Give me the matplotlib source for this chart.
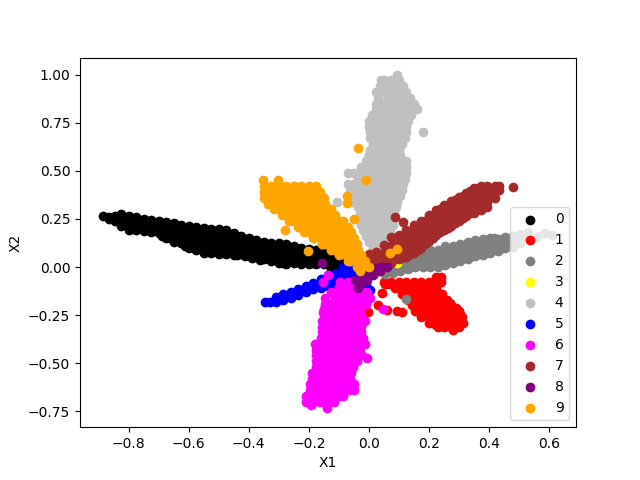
import matplotlib
matplotlib.use('Agg')
import matplotlib.pyplot as plt

# points, one small table per class
# columns: (x, [y, y, ...])

black_cols = [
    (-0.885, [0.265]), (-0.865, [0.26, 0.25]), (-0.845, [0.265, 0.24]),
    (-0.825, [0.275, 0.245, 0.215]), (-0.80, [0.265, 0.235, 0.205, 0.195]),
    (-0.775, [0.26, 0.23, 0.19]), (-0.75, [0.25, 0.22, 0.185]),
    (-0.725, [0.245, 0.215, 0.18]), (-0.70, [0.24, 0.21, 0.175]),
    (-0.675, [0.235, 0.205, 0.175, 0.15]), (-0.65, [0.23, 0.20, 0.17, 0.13]),
    (-0.625, [0.22, 0.19, 0.16, 0.125]), (-0.60, [0.215, 0.185, 0.155, 0.125, 0.10]),
    (-0.575, [0.21, 0.18, 0.15, 0.12, 0.09]), (-0.55, [0.205, 0.175, 0.145, 0.115, 0.075]),
    (-0.525, [0.20, 0.17, 0.14, 0.11, 0.075]), (-0.50, [0.20, 0.17, 0.14, 0.11, 0.07]),
    (-0.475, [0.19, 0.16, 0.13, 0.10, 0.07]), (-0.45, [0.175, 0.145, 0.115, 0.085, 0.065]),
    (-0.425, [0.16, 0.13, 0.10, 0.07]), (-0.40, [0.15, 0.12, 0.09, 0.06]),
    (-0.375, [0.14, 0.11, 0.08, 0.05]), (-0.35, [0.13, 0.10, 0.07, 0.04]),
    (-0.325, [0.125, 0.095, 0.065, 0.03]), (-0.30, [0.125, 0.095, 0.065, 0.035, 0.02]),
    (-0.275, [0.12, 0.09, 0.06, 0.03, 0.015]), (-0.25, [0.11, 0.08, 0.05, 0.02]),
    (-0.225, [0.10, 0.07, 0.04, 0.015]), (-0.20, [0.095, 0.065, 0.035, 0.015]),
    (-0.175, [0.09, 0.06, 0.03, 0.015]), (-0.15, [0.075, 0.045, 0.015]),
    (-0.125, [0.05, 0.02, -0.01]), (-0.10, [0.03, 0.0, -0.02]), (-0.07, [0.01, -0.02]),
    # points between the columns above
    (-0.7125, [0.225, 0.195]), (-0.6875, [0.22, 0.19, 0.16]),
    (-0.6625, [0.215, 0.185, 0.15]), (-0.6375, [0.21, 0.18, 0.15]),
    (-0.6125, [0.20, 0.17, 0.14, 0.11]), (-0.5875, [0.195, 0.165, 0.135, 0.105]),
    (-0.5625, [0.19, 0.16, 0.13, 0.095]), (-0.5375, [0.19, 0.16, 0.125, 0.09]),
    (-0.5125, [0.185, 0.155, 0.125, 0.09]), (-0.4875, [0.18, 0.15, 0.12, 0.085]),
    (-0.4625, [0.17, 0.14, 0.11, 0.08]), (-0.4375, [0.155, 0.125, 0.095, 0.065]),
    (-0.4125, [0.145, 0.115, 0.085, 0.055]), (-0.3875, [0.135, 0.105, 0.075, 0.045]),
    (-0.3625, [0.125, 0.095, 0.065, 0.035]), (-0.3375, [0.115, 0.085, 0.055]),
    (-0.3125, [0.11, 0.08, 0.05]), (-0.2875, [0.105, 0.075, 0.045, 0.02]),
    (-0.2625, [0.10, 0.07, 0.04]), (-0.2375, [0.09, 0.06, 0.03]),
    (-0.2125, [0.08, 0.05, 0.025]), (-0.1875, [0.075, 0.045, 0.02]),
]

gray_cols = [
    (0.03, [-0.02, 0.0]), (0.055, [-0.035, -0.005, 0.02]), (0.08, [-0.03, 0.0, 0.03]),
    (0.105, [-0.02, 0.01, 0.04]), (0.13, [-0.01, 0.02, 0.05]), (0.155, [0.0, 0.03, 0.06]),
    (0.18, [0.0, 0.03, 0.06, 0.08]), (0.205, [0.0, 0.03, 0.06, 0.09]),
    (0.23, [0.0, 0.03, 0.06, 0.09]), (0.255, [0.01, 0.04, 0.07, 0.10, 0.11]),
    (0.28, [0.02, 0.05, 0.08, 0.11]), (0.305, [0.03, 0.06, 0.09, 0.12]),
    (0.33, [0.04, 0.07, 0.10, 0.13]), (0.355, [0.055, 0.085, 0.115, 0.14]),
    (0.38, [0.065, 0.095, 0.125, 0.145]), (0.405, [0.075, 0.105, 0.135, 0.15]),
    (0.43, [0.085, 0.115, 0.145]), (0.455, [0.10, 0.13, 0.155]),
    (0.48, [0.105, 0.135, 0.16]), (0.505, [0.125, 0.155, 0.17]),
    (0.53, [0.15, 0.18]), (0.56, [0.155]), (0.587, [0.177]), (0.61, [0.167]),
    (0.123, [-0.167]),
    # points between the columns above
    (0.0925, [-0.015, 0.015]), (0.1175, [-0.005, 0.025]), (0.1425, [0.005, 0.035]),
    (0.1675, [0.015, 0.045]), (0.1925, [0.015, 0.045, 0.07]),
    (0.2175, [0.015, 0.045, 0.075]), (0.2425, [0.015, 0.045, 0.075]),
    (0.2675, [0.025, 0.055, 0.085]), (0.2925, [0.035, 0.065, 0.095]),
    (0.3175, [0.045, 0.075, 0.105]), (0.3425, [0.055, 0.085, 0.115]),
    (0.3675, [0.07, 0.10, 0.13]), (0.3925, [0.08, 0.11, 0.14]),
    (0.4175, [0.09, 0.12, 0.15]), (0.4425, [0.10, 0.13]),
    (0.4675, [0.115, 0.145]), (0.4925, [0.13, 0.15]),
]

brown_cols = [
    (0.0, [0.04, 0.07]), (0.025, [0.02, 0.05, 0.08]), (0.05, [0.015, 0.045, 0.075, 0.115]),
    (0.075, [0.02, 0.05, 0.08, 0.11, 0.155]), (0.10, [0.04, 0.07, 0.10, 0.13, 0.165]),
    (0.125, [0.05, 0.08, 0.11, 0.14, 0.17, 0.195]),
    (0.15, [0.075, 0.105, 0.135, 0.165, 0.195, 0.22]),
    (0.175, [0.10, 0.13, 0.16, 0.19, 0.22, 0.24]),
    (0.20, [0.135, 0.165, 0.195, 0.225, 0.255, 0.27]),
    (0.225, [0.165, 0.195, 0.225, 0.255, 0.285, 0.295]),
    (0.25, [0.19, 0.22, 0.25, 0.28, 0.31, 0.325]),
    (0.275, [0.215, 0.245, 0.275, 0.305, 0.335, 0.345]),
    (0.30, [0.24, 0.27, 0.30, 0.33, 0.36, 0.365]),
    (0.325, [0.265, 0.295, 0.325, 0.355, 0.385]),
    (0.35, [0.28, 0.31, 0.34, 0.37, 0.40, 0.41]),
    (0.375, [0.295, 0.325, 0.355, 0.385, 0.42]),
    (0.395, [0.31, 0.34, 0.37, 0.40, 0.42]),
    (0.42, [0.36, 0.39, 0.42]), (0.435, [0.40, 0.42]),
    (0.48, [0.417]), (0.087, [0.26]), (0.113, [0.234]),
    # points between the columns above
    (0.0625, [0.03, 0.06, 0.09]), (0.0875, [0.04, 0.07, 0.10, 0.13]),
    (0.1125, [0.05, 0.08, 0.11, 0.14]), (0.1375, [0.07, 0.10, 0.13, 0.16]),
    (0.1625, [0.09, 0.12, 0.15, 0.18, 0.21]), (0.1875, [0.12, 0.15, 0.18, 0.21, 0.24]),
    (0.2125, [0.15, 0.18, 0.21, 0.24, 0.27]), (0.2375, [0.18, 0.21, 0.24, 0.27, 0.30]),
    (0.2625, [0.205, 0.235, 0.265, 0.295, 0.325]), (0.2875, [0.23, 0.26, 0.29, 0.32, 0.35]),
    (0.3125, [0.255, 0.285, 0.315, 0.345, 0.37]), (0.3375, [0.28, 0.31, 0.34, 0.37, 0.395]),
    (0.3625, [0.30, 0.33, 0.36, 0.39, 0.41]), (0.385, [0.32, 0.35, 0.385, 0.41]),
]

blue_cols = [
    (-0.347, [-0.182]), (-0.33, [-0.18]), (-0.31, [-0.18, -0.155]),
    (-0.285, [-0.17, -0.14]), (-0.26, [-0.16, -0.13]), (-0.235, [-0.145, -0.115]),
    (-0.21, [-0.13, -0.10]), (-0.185, [-0.115, -0.085]), (-0.16, [-0.11, -0.08, -0.06]),
    (-0.135, [-0.10, -0.07, -0.04]), (-0.11, [-0.09, -0.06, -0.03]),
    (-0.085, [-0.08, -0.05, -0.02, 0.0]), (-0.06, [-0.07, -0.04, -0.01]),
    (-0.035, [-0.06, -0.03]), (-0.01, [-0.09, -0.05]), (0.003, [-0.12]),
]

# rows: (y, [x, x, ...])

red_rows = [
    (-0.05, [0.225, 0.24]),
    (-0.08, [0.05, 0.075, 0.10, 0.125, 0.15, 0.175, 0.20, 0.225, 0.24]),
    (-0.09, [0.055, 0.07]),
    (-0.11, [0.088, 0.113, 0.138, 0.163, 0.188, 0.213, 0.225]),
    (-0.14, [0.11, 0.125, 0.15, 0.175, 0.20, 0.225, 0.245]),
    (-0.17, [0.13, 0.138, 0.163, 0.188, 0.213, 0.238, 0.26]),
    (-0.20, [0.145, 0.15, 0.175, 0.20, 0.225, 0.25, 0.275, 0.03]),
    (-0.23, [0.155, 0.163, 0.188, 0.213, 0.238, 0.263, 0.288, 0.30]),
    (-0.26, [0.175, 0.20, 0.225, 0.25, 0.275, 0.30, 0.31]),
    (-0.29, [0.20, 0.213, 0.238, 0.263, 0.288, 0.315]),
    (-0.31, [0.23, 0.25, 0.275, 0.30]),
    (-0.33, [0.28]),
    (-0.135, [0.043]),
    (-0.224, [0.06]), (-0.229, [0.093]), (-0.234, [-0.003, 0.11]),
    # points between the rows above
    (-0.095, [0.10, 0.125, 0.15, 0.175, 0.20, 0.22]),
    (-0.125, [0.125, 0.15, 0.175, 0.20, 0.225]),
    (-0.155, [0.14, 0.165, 0.19, 0.215, 0.24]),
    (-0.185, [0.15, 0.175, 0.20, 0.225, 0.25, 0.27]),
    (-0.215, [0.17, 0.195, 0.22, 0.245, 0.27, 0.29]),
    (-0.245, [0.18, 0.205, 0.23, 0.255, 0.28, 0.305]),
    (-0.275, [0.205, 0.23, 0.255, 0.28, 0.305]),
    (-0.30, [0.225, 0.25, 0.275, 0.30]),
]

yellow_rows = [(0.022, [0.093]), (0.03, [0.085])]

silver_rows = [
    (1.0, [0.093]), (0.97, [0.04, 0.05, 0.075, 0.10]),
    (0.94, [0.038, 0.063, 0.088, 0.113]),
    (0.91, [0.025, 0.05, 0.075, 0.10, 0.125]),
    (0.88, [0.03, 0.063, 0.088, 0.113, 0.138]),
    (0.85, [0.025, 0.05, 0.075, 0.10, 0.125, 0.15]),
    (0.82, [0.025, 0.038, 0.063, 0.088, 0.113, 0.138, 0.16]),
    (0.79, [0.01, 0.025, 0.05, 0.075, 0.10, 0.125, 0.14]),
    (0.76, [0.0, 0.013, 0.038, 0.063, 0.088, 0.113, 0.13]),
    (0.73, [0.0, 0.025, 0.05, 0.075, 0.10, 0.125]),
    (0.70, [0.005, 0.013, 0.038, 0.063, 0.088, 0.113, 0.125, 0.18]),
    (0.67, [0.005, 0.025, 0.05, 0.075, 0.10, 0.12]),
    (0.64, [0.013, 0.038, 0.063, 0.088, 0.11]),
    (0.61, [0.005, 0.025, 0.05, 0.075, 0.10]),
    (0.58, [0.0, 0.013, 0.038, 0.063, 0.088, 0.105]),
    (0.55, [-0.01, 0.0, 0.025, 0.05, 0.075, 0.10, 0.123]),
    (0.52, [-0.025, -0.012, 0.013, 0.038, 0.063, 0.088, 0.113, 0.125]),
    (0.49, [-0.07, -0.05, -0.025, 0.0, 0.025, 0.05, 0.075, 0.10, 0.125]),
    (0.46, [-0.037, -0.012, 0.013, 0.038, 0.063, 0.088, 0.113, 0.12]),
    (0.43, [-0.07, -0.05, -0.025, 0.0, 0.025, 0.05, 0.075, 0.10, 0.113]),
    (0.40, [-0.062, -0.037, -0.012, 0.013, 0.038, 0.063, 0.088, 0.11]),
    (0.37, [-0.06, -0.05, -0.025, 0.0, 0.025, 0.05, 0.075, 0.105]),
    (0.34, [-0.107, -0.055, -0.037, -0.012, 0.013, 0.038, 0.063, 0.088, 0.095]),
    (0.31, [-0.035, -0.025, 0.0, 0.025, 0.05, 0.075, 0.09]),
    (0.28, [-0.03, -0.012, 0.013, 0.038, 0.063, 0.085]),
    (0.25, [-0.03, -0.015, 0.0, 0.025, 0.05, 0.075, 0.08]),
    (0.22, [-0.025, -0.012, 0.013, 0.038, 0.063, 0.08]),
    (0.19, [-0.02, 0.0, 0.025, 0.05, 0.07]),
    (0.16, [-0.01, 0.013, 0.038, 0.063]),
    (0.13, [0.0, 0.025, 0.05]),
    (0.10, [0.013, 0.038, 0.055]),
    (0.07, [0.02, 0.04]),
]

magenta_rows = [
    (-0.735, [-0.14]), (-0.72, [-0.193]),
    (-0.70, [-0.21, -0.187, -0.162, -0.137, -0.115]),
    (-0.67, [-0.21, -0.20, -0.175, -0.15, -0.125, -0.10, -0.087]),
    (-0.64, [-0.195, -0.187, -0.162, -0.137, -0.112, -0.087, -0.062, -0.05]),
    (-0.61, [-0.195, -0.175, -0.15, -0.125, -0.10, -0.075, -0.05]),
    (-0.58, [-0.19, -0.162, -0.137, -0.112, -0.087, -0.062]),
    (-0.55, [-0.19, -0.175, -0.15, -0.125, -0.10, -0.075, -0.06]),
    (-0.52, [-0.177, -0.162, -0.137, -0.112, -0.087, -0.062, -0.053]),
    (-0.49, [-0.177, -0.15, -0.125, -0.10, -0.075, -0.05, -0.04]),
    (-0.475, [-0.007]),
    (-0.46, [-0.177, -0.162, -0.137, -0.112, -0.087, -0.062, -0.037, -0.025]),
    (-0.43, [-0.177, -0.15, -0.125, -0.10, -0.075, -0.05, -0.03]),
    (-0.40, [-0.18, -0.162, -0.137, -0.112, -0.087, -0.062, -0.037, -0.013]),
    (-0.37, [-0.16, -0.15, -0.125, -0.10, -0.075, -0.05, -0.02]),
    (-0.34, [-0.155, -0.137, -0.112, -0.087, -0.062, -0.037, -0.025]),
    (-0.31, [-0.155, -0.125, -0.10, -0.075, -0.05, -0.025]),
    (-0.28, [-0.157, -0.137, -0.112, -0.087, -0.062, -0.037, -0.013]),
    (-0.25, [-0.15, -0.125, -0.10, -0.075, -0.05, -0.025]),
    (-0.234, [-0.153]),
    (-0.22, [-0.15, -0.137, -0.112, -0.087, -0.062, -0.037, -0.03, 0.047]),
    (-0.19, [-0.145, -0.125, -0.10, -0.075, -0.05, -0.025, -0.01]),
    (-0.16, [-0.145, -0.112, -0.087, -0.062, -0.037, -0.012, 0.003]),
    (-0.13, [-0.125, -0.10, -0.075, -0.05, -0.025, -0.005]),
    (-0.105, [-0.10, -0.087, -0.062, -0.037]),
    (-0.08, [-0.153, -0.095, -0.07, -0.05]),
    (-0.04, [-0.137]),
]

purple_rows = [
    (0.021, [-0.157]), (0.0, [0.06, 0.04]), (-0.005, [0.027]),
    (-0.02, [0.037, 0.01]), (-0.042, [0.013, -0.015]),
    (-0.068, [-0.047, -0.025, -0.007]), (-0.09, [-0.03]), (-0.11, [-0.037]),
]

orange_rows = [
    (0.62, [-0.037]), (0.453, [-0.353, -0.303, -0.01]),
    (0.42, [-0.35, -0.325, -0.30, -0.275, -0.25, -0.225, -0.20, -0.175]),
    (0.39, [-0.35, -0.337, -0.312, -0.287, -0.262, -0.237, -0.212, -0.187, -0.162]),
    (0.37, [-0.073]),
    (0.36, [-0.35, -0.325, -0.30, -0.275, -0.25, -0.225, -0.20, -0.175, -0.15]),
    (0.335, [-0.073]),
    (0.33, [-0.337, -0.312, -0.287, -0.262, -0.237, -0.212, -0.187, -0.162, -0.145]),
    (0.30, [-0.315, -0.30, -0.275, -0.25, -0.225, -0.20, -0.175, -0.15, -0.125]),
    (0.27, [-0.29, -0.262, -0.237, -0.212, -0.187, -0.162, -0.137, -0.112]),
    (0.25, [-0.05]),
    (0.24, [-0.265, -0.25, -0.225, -0.20, -0.175, -0.15, -0.125, -0.10, -0.085]),
    (0.21, [-0.237, -0.212, -0.187, -0.162, -0.137, -0.112, -0.087, -0.07]),
    (0.193, [-0.28]),
    (0.18, [-0.215, -0.20, -0.175, -0.15, -0.125, -0.10, -0.075, -0.06]),
    (0.15, [-0.187, -0.162, -0.137, -0.112, -0.087, -0.062, -0.05]),
    (0.12, [-0.155, -0.15, -0.125, -0.10, -0.075, -0.05, -0.04]),
    (0.094, [0.093]),
    (0.09, [-0.125, -0.112, -0.087, -0.062, -0.037]),
    (0.083, [-0.203]), (0.073, [0.07]),
    (0.06, [-0.10, -0.075, -0.05, -0.025]),
    (0.03, [-0.07, -0.062, -0.037, -0.012]),
    (0.0, [-0.04, -0.025, 0.0]),
    (-0.02, [-0.03]),
]


# unpack a table into two flat lists
def from_cols(table):
    xs = [c[0] for c in table for y in c[1]]
    ys = [y for c in table for y in c[1]]
    return xs, ys


def from_rows(table):
    ys, xs = from_cols(table)
    return xs, ys


classes = [
    (from_cols(black_cols), 'black'),
    (from_rows(red_rows), 'red'),
    (from_cols(gray_cols), 'gray'),
    (from_rows(yellow_rows), 'yellow'),
    (from_rows(silver_rows), 'silver'),
    (from_cols(blue_cols), 'blue'),
    (from_rows(magenta_rows), 'magenta'),
    (from_cols(brown_cols), 'brown'),
    (from_rows(purple_rows), 'purple'),
    (from_rows(orange_rows), 'orange'),
]

fig, ax = plt.subplots()
for i, (pts, color) in enumerate(classes):
    ax.scatter(pts[0], pts[1], c=color, label=str(i))

ax.set_xlim(-0.962, 0.69)
ax.set_ylim(-0.833, 1.089)
ax.set_xlabel('X1')
ax.set_ylabel('X2')
ax.legend(loc='lower right')
fig.savefig('out.png', dpi=100)
